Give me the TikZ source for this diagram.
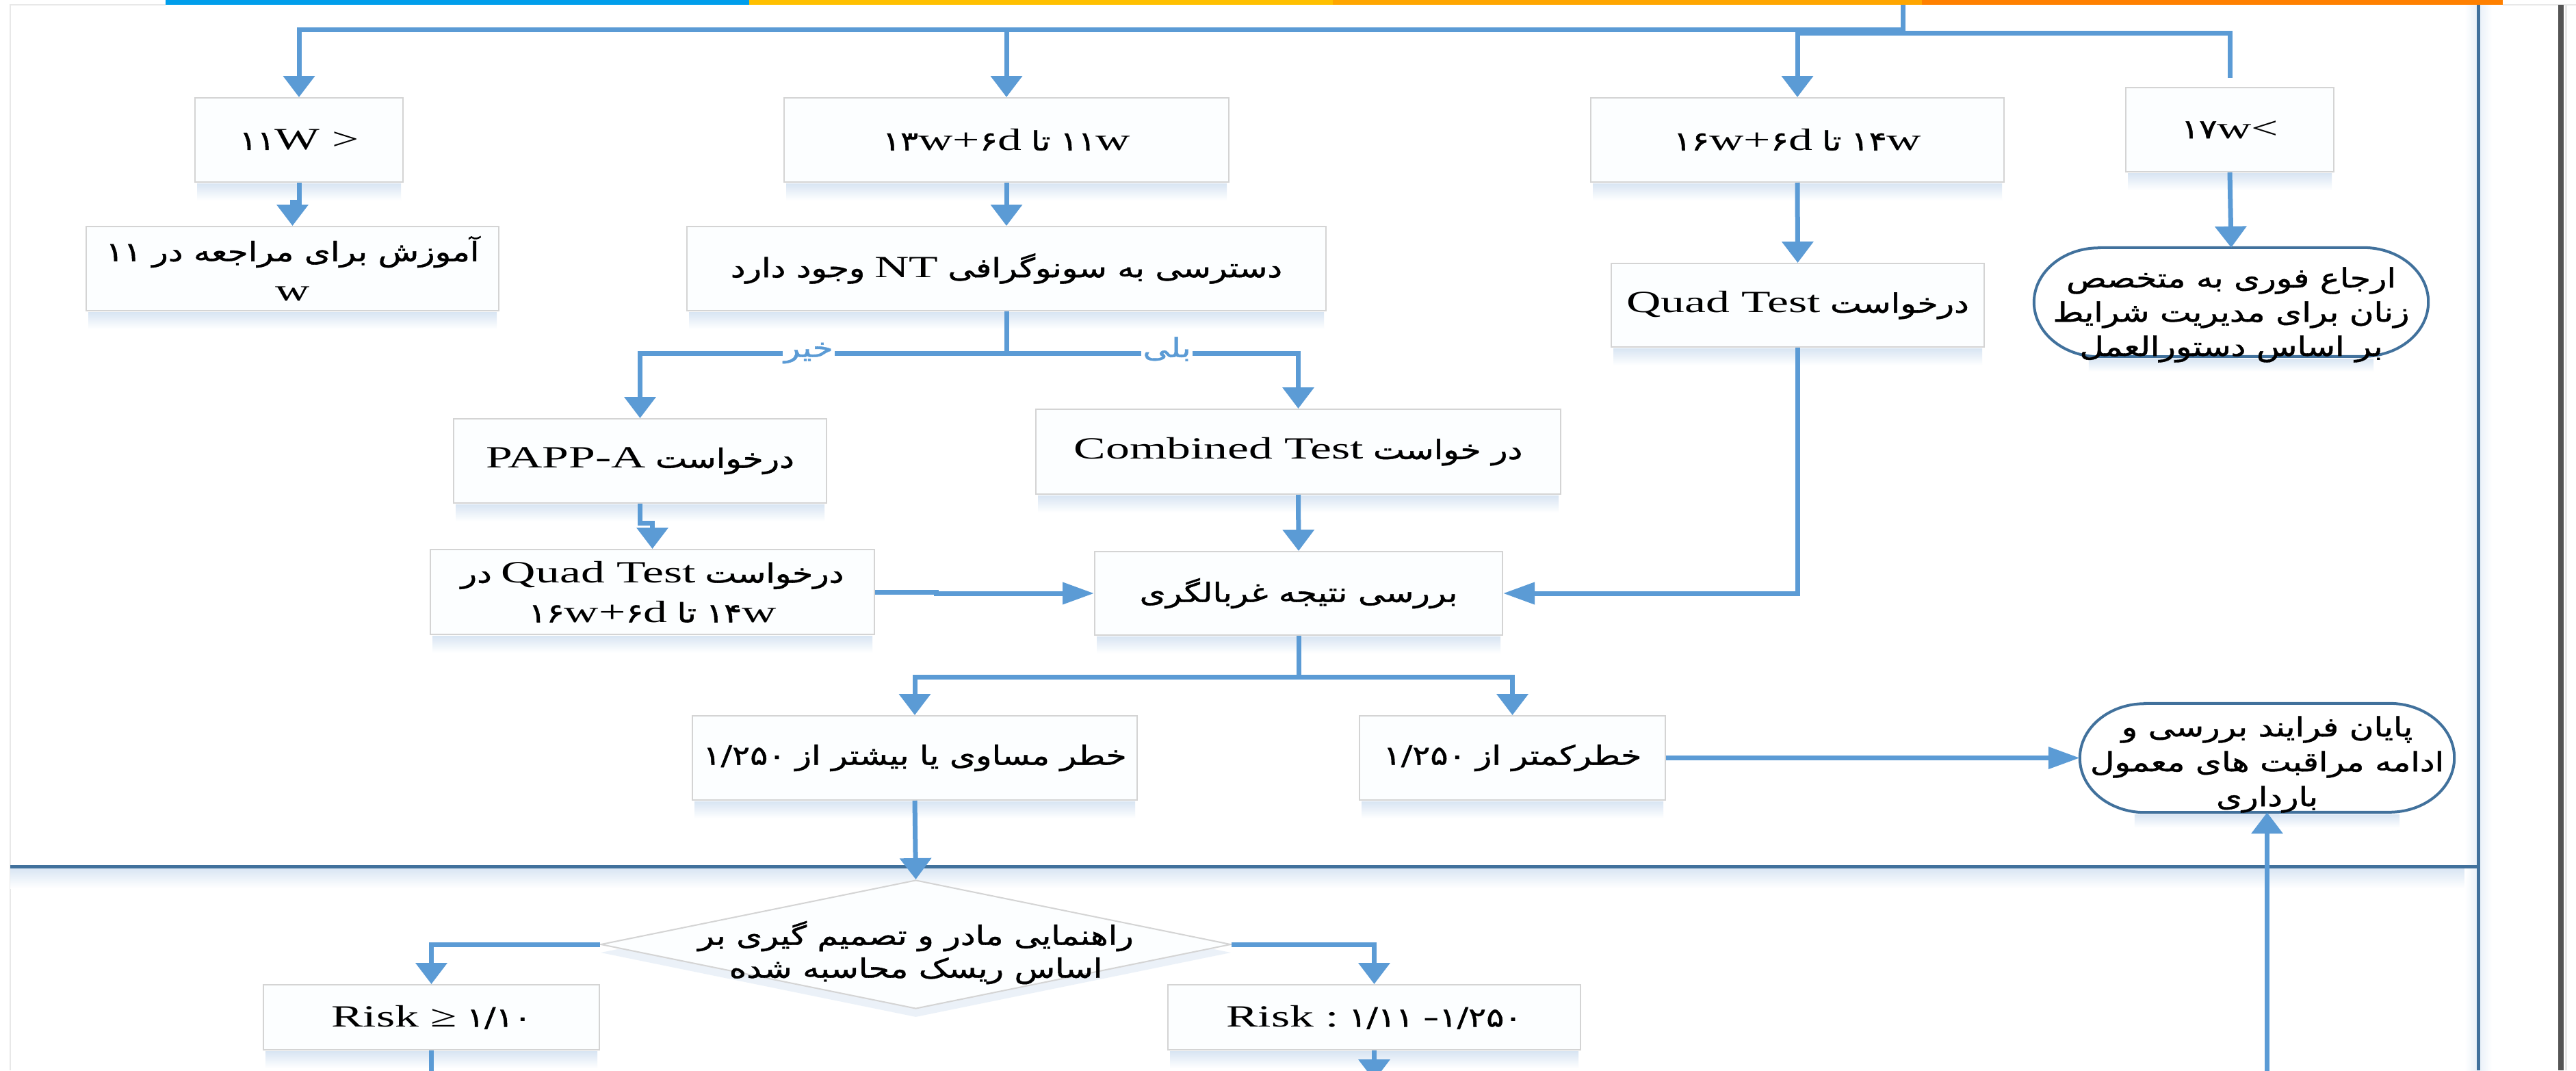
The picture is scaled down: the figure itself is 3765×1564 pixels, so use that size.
\documentclass[tikz,border=0pt]{standalone}
\usepackage{fontspec}
\usepackage{graphicx}
\setmainfont{Liberation Serif}
\newfontfamily\arf[Script=Arabic,FakeBold=1]{DejaVu Sans}
\TeXXeTstate=1
\usetikzlibrary{arrows.meta,shapes.geometric,calc}

\definecolor{connc}{RGB}{91,155,213}
\definecolor{lanec}{RGB}{65,113,156}
\definecolor{boxline}{RGB}{212,212,212}
\definecolor{boxfill}{RGB}{252,254,255}
\definecolor{shadowc}{RGB}{216,229,243}
\definecolor{barblue}{RGB}{0,158,235}
\definecolor{bargold}{RGB}{255,192,0}
\definecolor{barorange}{RGB}{255,166,0}
\definecolor{bardark}{RGB}{255,128,0}
\definecolor{framec}{RGB}{232,232,232}
\definecolor{edgec}{RGB}{85,85,85}

% horizontal stretch of the lettering
\newcommand\fasx{1.25}
\newcommand\lasx{1.55}
\newcommand\fatxt[1]{\scalebox{\fasx}[1]{\fontsize{39}{58}\arf\beginR #1\endR}}
\newcommand\numtxt[1]{\scalebox{\fasx}[1]{\fontsize{39}{58}\arf #1}}
\newcommand\latxt[1]{\scalebox{\lasx}[1]{\fontsize{45}{58}\selectfont #1}}
\newcommand\gp{\hspace{14pt}}
\newcommand\bfnt{\fontsize{45}{58}\selectfont}

\tikzset{
  box/.style={draw=boxline, line width=2pt, fill=boxfill, inner sep=0pt,
              align=center, font=\bfnt},
  term/.style={inner sep=0pt, align=center, font=\bfnt},
  termline/.style={draw=lanec, line width=4pt},
  dia/.style={shape=diamond, draw=boxline, line width=2pt, fill=boxfill,
              inner sep=0pt, minimum width=921pt, minimum height=188pt},
  lbl/.style={fill=white, inner sep=2pt, text=connc, font=\bfnt},
  conn/.style={draw=connc, line width=7pt},
  dn/.style={-{Triangle[length=31pt,width=45pt]}},
  rt/.style={-{Triangle[length=46pt,width=31pt]}},
  laneline/.style={draw=lanec, line width=5pt},
}

\begin{document}
\begin{tikzpicture}[x=1pt,y=-1pt]
\useasboundingbox (0,0) rectangle (3765,1564);
\clip (0,0) rectangle (3765,1564);
\fill[white] (0,0) rectangle (3765,1564);

% coloured strip along the top
\fill[barblue]   (242,0)  rectangle (1095,7);
\fill[bargold]   (1095,0) rectangle (1948,7);
\fill[barorange] (1948,0) rectangle (2809,7);
\fill[bardark]   (2809,0) rectangle (3658,7);

% page frame
\draw[framec, line width=2pt] (15,1564) -- (15,7) -- (242,7);
\draw[framec, line width=2pt] (3658,7) -- (3765,7);
\draw[edgec, line width=8pt] (3743,7) -- (3743,1564);
\draw[framec, line width=3pt] (3750,7) -- (3750,1564);

% swimlane borders
\shade[top color=shadowc, bottom color=white] (15,1268) rectangle (3622,1298);
\shade[left color=white, right color=shadowc!60] (3602,7) rectangle (3622,1564);
\shade[left color=shadowc!60, right color=white] (3622,7) rectangle (3642,1564);
\draw[laneline] (15,1266) -- (3622,1266);
\draw[laneline] (3622,7) -- (3622,1564);

% decision shadow
\node[shape=diamond, fill=shadowc, opacity=0.5, inner sep=0pt,
      minimum width=921pt, minimum height=188pt] (dsh) at (1338.5,1392) {};

% ---- nodes ----
\node[box, minimum width=304pt, minimum height=123pt] (b1) at (437,204.5)
  {\numtxt{۱۱}\latxt{W >}};
\node[box, minimum width=650pt, minimum height=123pt] (b2) at (1471,204.5)
  {\numtxt{۱۳}\latxt{w+}\numtxt{۶}\latxt{d}\gp\fatxt{تا}\gp\numtxt{۱۱}\latxt{w}};
\node[box, minimum width=604pt, minimum height=123pt] (b3) at (2627,204.5)
  {\numtxt{۱۶}\latxt{w+}\numtxt{۶}\latxt{d}\gp\fatxt{تا}\gp\numtxt{۱۴}\latxt{w}};
\node[box, minimum width=304pt, minimum height=123pt] (b4) at (3259,189.5)
  {\numtxt{۱۷}\latxt{w<}};
\node[box, minimum width=603pt, minimum height=123pt] (b5) at (427.5,392.5)
  {\fatxt{آموزش برای مراجعه در ۱۱}\\\latxt{w}};
\node[box, minimum width=934pt, minimum height=123pt] (b6) at (1471,392.5)
  {\fatxt{وجود دارد}\gp\latxt{NT}\gp\fatxt{دسترسی به سونوگرافی}};
\node[box, minimum width=545pt, minimum height=122pt] (b7) at (2627.5,446)
  {\latxt{Quad Test}\gp\fatxt{درخواست}};
\node[term, minimum width=576pt, minimum height=159pt] (t1) at (3261,441.5) {};
\node[box, minimum width=545pt, minimum height=123pt] (b10) at (935.5,673.5)
  {\latxt{PAPP-A}\gp\fatxt{درخواست}};
\node[box, minimum width=767pt, minimum height=124pt] (b11) at (1897.5,660)
  {\latxt{Combined Test}\gp\fatxt{در خواست}};
\node[box, minimum width=649pt, minimum height=124pt] (b12) at (953.5,865)
  {\fatxt{در}\gp\latxt{Quad Test}\gp\fatxt{درخواست}\\
   \numtxt{۱۶}\latxt{w+}\numtxt{۶}\latxt{d}\gp\fatxt{تا}\gp\numtxt{۱۴}\latxt{w}};
\node[box, minimum width=596pt, minimum height=122pt] (b13) at (1898,867)
  {\fatxt{بررسی نتیجه غربالگری}};
\node[box, minimum width=650pt, minimum height=123pt] (b14) at (1337,1107.5)
  {\numtxt{۱/۲۵۰}\gp\fatxt{خطر مساوی یا بیشتر از}};
\node[box, minimum width=447pt, minimum height=123pt] (b15) at (2210.5,1107.5)
  {\numtxt{۱/۲۵۰}\gp\fatxt{خطرکمتر از}};
\node[term, minimum width=547pt, minimum height=159pt] (t2) at (3313.5,1107.5) {};
\node[dia] (d) at (1338.5,1380) {};
\node[term, font=\fontsize{45}{48}\selectfont] (dt) at (1338.5,1392)
  {\fatxt{راهنمایی مادر و تصمیم گیری بر}\\\fatxt{اساس ریسک محاسبه شده}};
\node[box, minimum width=491pt, minimum height=95pt] (b16) at (630.5,1486.5)
  {\latxt{Risk ≥}\gp\numtxt{۱/۱۰}};
\node[box, minimum width=603pt, minimum height=95pt] (b17) at (2008.5,1486.5)
  {\latxt{Risk :}\gp\numtxt{۱/۱۱}\gp\latxt{-}\numtxt{۱/۲۵۰}};

% soft shadows under the boxes and terminators
\foreach \n in {b1,b2,b3,b4,b5,b6,b7,b10,b11,b12,b13,b14,b15,b16,b17}{
  \shade[top color=shadowc, bottom color=white]
    ($(\n.south west)+(4,1)$) rectangle ($(\n.south east)+(-4,26)$);
}
\foreach \n in {t1,t2}{
  \shade[top color=shadowc, bottom color=white]
    ($(\n.south west)+(80,3)$) rectangle ($(\n.south east)+(-80,22)$);
}

% terminator outlines
\draw[termline] ($(t1.north west)+(95,0)$) -- ($(t1.north east)+(-95,0)$)
  arc[start angle=-90, end angle=90, x radius=95, y radius=79.5]
  -- ($(t1.south west)+(95,0)$)
  arc[start angle=90, end angle=270, x radius=95, y radius=79.5] -- cycle;
\draw[termline] ($(t2.north west)+(95,0)$) -- ($(t2.north east)+(-95,0)$)
  arc[start angle=-90, end angle=90, x radius=95, y radius=79.5]
  -- ($(t2.south west)+(95,0)$)
  arc[start angle=90, end angle=270, x radius=95, y radius=79.5] -- cycle;

% terminator texts, set over their outlines
\node[term, font=\fontsize{45}{50}\selectfont] (t1t) at (3261,460)
  {\fatxt{ارجاع فوری به متخصص}\\\fatxt{زنان برای مدیریت شرایط}\\\fatxt{بر اساس دستورالعمل}};
\node[term, font=\fontsize{45}{51}\selectfont] (t2t) at (3313.5,1117)
  {\fatxt{پایان فرایند بررسی و}\\\fatxt{ادامه مراقبت های معمول}\\\fatxt{بارداری}};

% ---- connectors ----
\coordinate (src) at (2781,7);
\coordinate (busA) at (2781,43);
\draw[conn, dn] (src) -- (busA) -| (b1.north);
\draw[conn, dn] (b2.north |- busA) -- (b2.north);
\draw[conn, dn] ($(b4.north)+(0,-13)$) |- ($(b3.north)+(0,-94)$) -- (b3.north);

\draw[conn, dn] (b1.south) -- ++(0,28) -| (b5.north);
\draw[conn, dn] (b2.south) -- (b6.north);
\draw[conn, dn] (b6.south) -- ++(0,61) -| node[pos=0.27, lbl] {\fatxt{خیر}} (b10.north);
\draw[conn, dn] (b6.south) -- ++(0,61) -| node[pos=0.275, lbl, yshift=6pt] {\fatxt{بلی}} (b11.north);
\draw[conn, dn] (b10.south) -- ++(0,28) -| (b12.north);
\draw[conn, dn] (b11.south) -- (b13.north);
\draw[conn, rt] (b12.east) -- ++(89,0) |- (b13.west);
\draw[conn, rt] (b7.south) |- (b13.east);
\draw[conn, dn] (b3.south) -- (b7.north);
\draw[conn, dn] (b4.south) -- (t1.north);

\draw[conn, dn] (b13.south) -- ++(0,60) -| (b14.north);
\draw[conn, dn] (b13.south) -- ++(0,60) -| (b15.north);
\draw[conn, rt] (b15.east) -- (t2.west);
\draw[conn, dn] (b14.south) -- (d.north);
\draw[conn, dn] (d.west) -| (b16.north);
\draw[conn, dn] (d.east) -| (b17.north);

\coordinate (e1) at (630.5,1600);
\coordinate (e2) at (2008.5,1579);
\coordinate (e3) at (3313.5,1600);
\draw[conn] (b16.south) -- (e1);
\draw[conn, dn] (b17.south) -- (e2);
\draw[conn, dn] (e3) -- (t2.south);
\end{tikzpicture}
\end{document}
